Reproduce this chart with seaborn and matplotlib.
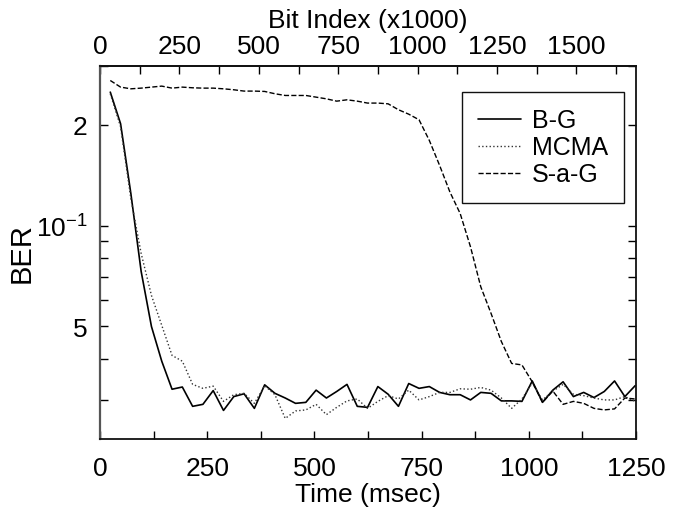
import matplotlib
matplotlib.use("Agg")
import matplotlib.pyplot as plt
import matplotlib.ticker as mticker
import numpy as np
import pandas as pd
import seaborn as sns

# ---- data ----
time_ms = [24, 48, 72, 96, 120, 144, 168, 192, 216, 240, 264, 288, 312,
           336, 360, 384, 408, 432, 456, 480, 504, 528, 552, 576, 600, 624,
           648, 672, 696, 720, 744, 768, 792, 816, 840, 864, 888, 912, 936,
           960, 984, 1008, 1032, 1056, 1080, 1104, 1128, 1152, 1176, 1200,
           1224, 1248]

ber_bg = [0.2506, 0.2016, 0.1246, 0.0729, 0.0499, 0.0393, 0.0324, 0.0329,
          0.0288, 0.0292, 0.0321, 0.0280, 0.0308, 0.0314, 0.0284, 0.0334,
          0.0315, 0.0305, 0.0294, 0.0296, 0.0322, 0.0305, 0.0319, 0.0335,
          0.0288, 0.0286, 0.0330, 0.0313, 0.0288, 0.0337, 0.0326, 0.0330,
          0.0317, 0.0312, 0.0312, 0.0301, 0.0317, 0.0315, 0.0299, 0.0299,
          0.0298, 0.0343, 0.0296, 0.0322, 0.0341, 0.0308, 0.0317, 0.0306,
          0.0319, 0.0343, 0.0308, 0.0332]

ber_mcma = [0.2478, 0.1975, 0.1204, 0.0825, 0.0618, 0.0503, 0.0409, 0.0393,
            0.0335, 0.0326, 0.0331, 0.0298, 0.0312, 0.0315, 0.0294, 0.0332,
            0.0312, 0.0265, 0.0279, 0.0281, 0.0292, 0.0272, 0.0286, 0.0299,
            0.0303, 0.0284, 0.0298, 0.0310, 0.0303, 0.0322, 0.0301, 0.0308,
            0.0317, 0.0317, 0.0325, 0.0324, 0.0328, 0.0322, 0.0305, 0.0284,
            0.0303, 0.0338, 0.0301, 0.0320, 0.0335, 0.0313, 0.0310, 0.0305,
            0.0301, 0.0301, 0.0308, 0.0298]

ber_sag = [0.2715, 0.2594, 0.2564, 0.2576, 0.2594, 0.2612, 0.2576, 0.2594,
           0.2582, 0.2576, 0.2576, 0.2564, 0.2547, 0.2524, 0.2524, 0.2518,
           0.2478, 0.2449, 0.2449, 0.2449, 0.2421, 0.2393, 0.2355, 0.2377,
           0.2355, 0.2324, 0.2324, 0.2312, 0.2220, 0.2153, 0.2072, 0.1797,
           0.1513, 0.1260, 0.1086, 0.0864, 0.0656, 0.0546, 0.0450, 0.0387,
           0.0383, 0.0341, 0.0296, 0.0320, 0.0292, 0.0298, 0.0294, 0.0284,
           0.0281, 0.0283, 0.0305, 0.0303]

series_names = ["B-G", "MCMA", "S-a-G"]
x_ticks = [0, 250, 500, 750, 1000, 1250]
top_ticks = [0, 250, 500, 750, 1000, 1250, 1500]
y_ticks = [0.05, 0.1, 0.2]
y_tick_labels = ["5", "$10^{-1}$", "2"]
kbits_per_ms = 1.35

# ---- style ----
sns.set_style("ticks")
plt.rcParams["font.family"] = ["Liberation Sans", "DejaVu Sans"]
plt.rcParams["mathtext.fontset"] = "custom"
plt.rcParams["mathtext.rm"] = "Liberation Sans"
plt.rcParams["mathtext.it"] = "Liberation Sans:italic"
plt.rcParams["mathtext.bf"] = "Liberation Sans:bold"
plt.rcParams["text.color"] = "black"
plt.rcParams["axes.labelcolor"] = "black"
plt.rcParams["xtick.color"] = "black"
plt.rcParams["ytick.color"] = "black"
plt.rcParams["axes.edgecolor"] = "black"

fig = plt.figure(figsize=(6.78, 5.10), dpi=100)
ax = fig.add_axes([100 / 678, 70 / 510, 536 / 678, 373 / 510])

df = pd.DataFrame({
    "time": time_ms * 3,
    "ber": ber_bg + ber_mcma + ber_sag,
    "method": [series_names[0]] * len(time_ms)
              + [series_names[1]] * len(time_ms)
              + [series_names[2]] * len(time_ms),
})

styles = {"B-G": ("-", 1.2, "black"),
          "MCMA": (":", 1.0, "#333333"),
          "S-a-G": ("--", 1.0, "black")}
for name in series_names:
    ls, lw, col = styles[name]
    sns.lineplot(data=df[df["method"] == name], x="time", y="ber", ax=ax,
                 color=col, linestyle=ls, linewidth=lw, label=name)

ax.set_yscale("log")
ax.set_xlim(0, 1250)
ax.set_ylim(0.023, 0.30)

ax.xaxis.set_major_locator(mticker.FixedLocator(x_ticks))
ax.xaxis.set_minor_locator(mticker.MultipleLocator(125))
ax.yaxis.set_major_locator(mticker.FixedLocator(y_ticks))
ax.yaxis.set_major_formatter(mticker.FixedFormatter(y_tick_labels))
ax.yaxis.set_minor_locator(mticker.LogLocator(base=10, subs=np.arange(2, 10) * 1.0))
ax.yaxis.set_minor_formatter(mticker.NullFormatter())

ax.tick_params(which="both", direction="in", left=True, right=True,
               bottom=True, top=False, labelsize=19,
               length=6, width=1.0, color="black", labelcolor="black")
ax.tick_params(axis="x", pad=12)
ax.tick_params(axis="y", pad=9)

ax.set_xlabel("Time (msec)", fontsize=19, labelpad=2, color="black")
ax.set_ylabel("BER", fontsize=21, labelpad=0, color="black")

sec = ax.secondary_xaxis("top", functions=(lambda t: t * kbits_per_ms,
                                            lambda b: b / kbits_per_ms))
sec.xaxis.set_major_locator(mticker.FixedLocator(top_ticks))
sec.xaxis.set_minor_locator(mticker.MultipleLocator(125))
sec.tick_params(which="both", direction="in", labelsize=19, length=6,
                width=1.0, pad=6, color="black", labelcolor="black")
sec.set_xlabel("Bit Index (x1000)", fontsize=19, labelpad=5, color="black")

for sp in ax.spines.values():
    sp.set_visible(True)
    sp.set_color("#111111")
    sp.set_linewidth(1.3)
ax.spines["left"].set_color("#555555")
ax.spines["left"].set_linewidth(1.6)
for sp in sec.spines.values():
    sp.set_color("#111111")
    sp.set_linewidth(1.3)

leg = ax.legend(loc="upper right", bbox_to_anchor=(0.978, 0.930),
                borderaxespad=0, fontsize=18, frameon=True, fancybox=False,
                edgecolor="#111111", framealpha=1, handlelength=1.7,
                labelspacing=0.12, borderpad=0.65, handletextpad=0.45)
leg.get_frame().set_linewidth(1.0)
for t in leg.get_texts():
    t.set_color("black")

fig.savefig("out.png", dpi=100)
